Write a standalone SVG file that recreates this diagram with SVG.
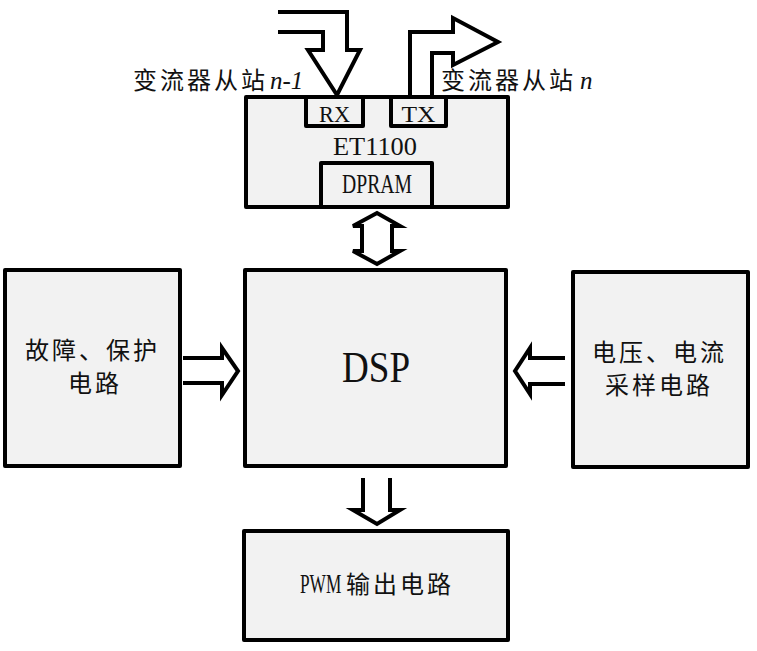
<svg xmlns="http://www.w3.org/2000/svg" width="757" height="651" viewBox="0 0 757 651">
<style>
.box{fill:#f2f2f2;stroke:#000;stroke-width:4;stroke-linejoin:round}
.arr{fill:#fff;stroke:#000;stroke-width:4;stroke-linejoin:miter}
.cn{font-family:"Noto Sans CJK SC","Noto Sans",sans-serif;font-size:24px;letter-spacing:3px;fill:#111}
.lat{font-family:"Liberation Serif","Noto Sans CJK SC",serif;fill:#111}
.it{font-family:"Liberation Serif",serif;font-style:italic;font-size:25px;fill:#111}
</style>
<rect width="757" height="651" fill="#fff"/>
<g id="connectors">
  <path class="arr" d="M278,12 H347 V50 H360 L337,95 L308,50 H323 V32 H278"/>
  <path class="arr" d="M410,97 V32 H453 V18 L498,42 L453,65 V53 H432 V97"/>
  <path class="arr" d="M362,226 H353 L377,213 L400,226 H392 V251 H400 L377,264 L353,251 H362 Z"/>
  <path class="arr" d="M363,478 V510 H353 L377,524 L400,510 H390 V478"/>
  <path class="arr" d="M183,358 H222 V348 L238,371 L222,395 V383 H183"/>
  <path class="arr" d="M565,358 H530 V348 L515,371 L530,394 V384 H565"/>
</g>
<g id="label-left">
  <text class="cn" x="133" y="89">变流器从站</text><text class="it" x="270" y="89">n-1</text>
</g>
<g id="label-right">
  <text class="cn" x="441" y="89">变流器从站</text><text class="it" x="580" y="89">n</text>
</g>
<g id="et1100">
  <rect class="box" x="246" y="97" width="262" height="110"/>
  <text class="lat" x="375" y="155" font-size="26" text-anchor="middle" textLength="84" lengthAdjust="spacingAndGlyphs">ET1100</text>
  <g id="rx">
    <rect class="box" x="306" y="97" width="57" height="29"/>
    <text class="lat" x="334.5" y="122" font-size="24" text-anchor="middle" textLength="31" lengthAdjust="spacingAndGlyphs">RX</text>
  </g>
  <g id="tx">
    <rect class="box" x="391" y="97" width="55" height="29"/>
    <text class="lat" x="418.5" y="122" font-size="24" text-anchor="middle" textLength="34" lengthAdjust="spacingAndGlyphs">TX</text>
  </g>
  <g id="dpram">
    <rect class="box" x="321" y="163" width="111" height="44"/>
    <text class="lat" x="377" y="193" font-size="27" text-anchor="middle" textLength="70" lengthAdjust="spacingAndGlyphs">DPRAM</text>
  </g>
</g>
<g id="fault">
  <rect class="box" x="5" y="270" width="175" height="196"/>
  <text class="cn" x="25" y="359">故障、保护</text>
  <text class="cn" x="68" y="392">电路</text>
</g>
<g id="dsp">
  <rect class="box" x="245" y="270" width="261" height="196"/>
  <text class="lat" x="376" y="382" font-size="44" text-anchor="middle" textLength="68" lengthAdjust="spacingAndGlyphs">DSP</text>
</g>
<g id="sampling">
  <rect class="box" x="573" y="272" width="175" height="195"/>
  <text class="cn" x="592" y="361">电压、电流</text>
  <text class="cn" x="605" y="394">采样电路</text>
</g>
<g id="pwm">
  <rect class="box" x="244" y="531" width="264" height="109"/>
  <text class="lat" transform="translate(300,593) scale(0.64,1)" font-size="27">PWM</text>
  <text class="cn" x="346" y="593">输出电路</text>
</g>
</svg>
